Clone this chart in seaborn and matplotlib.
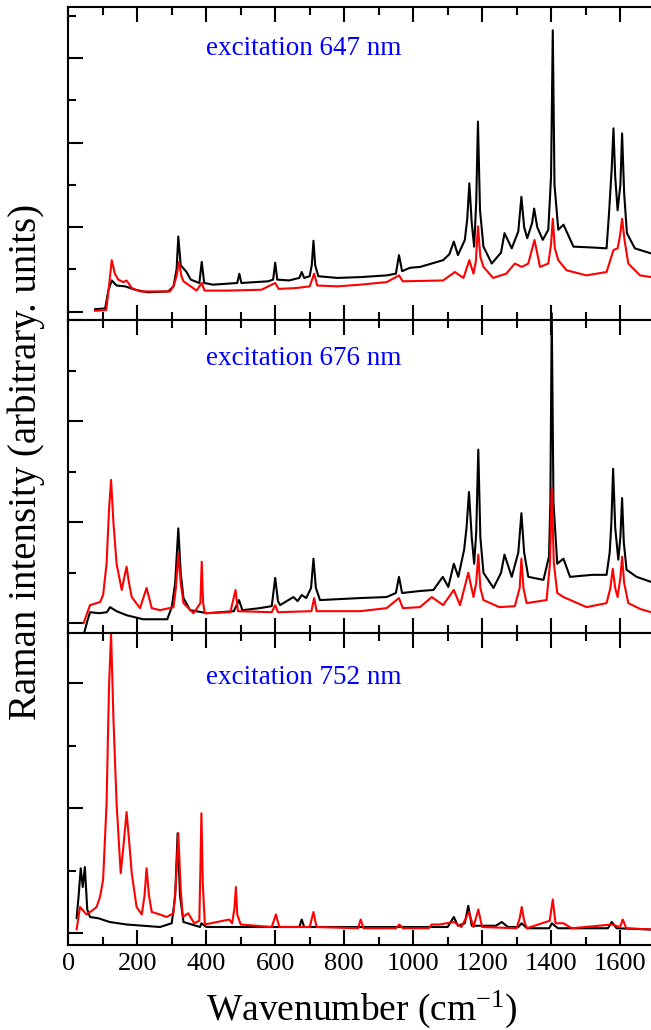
import pandas as pd
import matplotlib
matplotlib.use("Agg")
import matplotlib.pyplot as plt
from matplotlib.ticker import MultipleLocator, NullFormatter
import seaborn as sns

# ─── DATA (wavenumber cm-1, intensity in panel units) ──────────
EXCITATION = ["excitation 647 nm", "excitation 676 nm", "excitation 752 nm"]

top_black = [(77, 0.03), (107, 0.04), (116, 0.25), (126, 0.37), (140, 0.31), (165, 0.30),
             (194, 0.26), (230, 0.23), (290, 0.24), (305, 0.30), (314, 0.50), (319, 0.89),
             (326, 0.55), (343, 0.47), (355, 0.38), (380, 0.34), (387, 0.59), (394, 0.34),
             (420, 0.32), (490, 0.34), (496, 0.45), (502, 0.34), (580, 0.36), (594, 0.38),
             (600, 0.58), (606, 0.38), (640, 0.37), (670, 0.40), (677, 0.47), (684, 0.40),
             (700, 0.42), (706, 0.55), (711, 0.84), (716, 0.55), (725, 0.42), (780, 0.40),
             (850, 0.41), (923, 0.43), (950, 0.45), (959, 0.67), (968, 0.48), (991, 0.52),
             (1020, 0.53), (1087, 0.61), (1105, 0.68), (1118, 0.83), (1130, 0.67), (1150, 0.85),
             (1157, 1.10), (1163, 1.52), (1170, 1.05), (1177, 0.77), (1183, 1.30), (1188, 2.25),
             (1194, 1.20), (1204, 0.77), (1228, 0.57), (1255, 0.70), (1265, 0.93), (1286, 0.75),
             (1305, 0.95), (1314, 1.36), (1322, 1.00), (1331, 0.87), (1345, 1.05), (1351, 1.22),
             (1360, 1.00), (1376, 0.85), (1392, 0.97), (1400, 1.60), (1405, 3.33), (1410, 1.50),
             (1421, 0.97), (1436, 1.03), (1465, 0.77), (1520, 0.76), (1561, 0.75), (1568, 1.16),
             (1576, 1.70), (1581, 2.17), (1586, 1.60), (1593, 1.20), (1601, 1.50), (1606, 2.11),
             (1612, 1.40), (1620, 0.93), (1643, 0.75), (1690, 0.69)]

top_red = [(77, 0.01), (110, 0.02), (118, 0.30), (126, 0.61), (135, 0.45), (145, 0.38),
           (160, 0.35), (169, 0.37), (184, 0.28), (208, 0.24), (295, 0.24), (305, 0.30),
           (314, 0.42), (321, 0.59), (328, 0.42), (334, 0.36), (348, 0.32), (372, 0.25),
           (387, 0.34), (395, 0.25), (460, 0.25), (560, 0.26), (600, 0.34), (610, 0.27),
           (660, 0.28), (700, 0.30), (713, 0.45), (722, 0.31), (780, 0.30), (846, 0.32),
           (923, 0.35), (959, 0.43), (970, 0.36), (1087, 0.37), (1121, 0.47), (1146, 0.40),
           (1163, 0.61), (1175, 0.45), (1182, 0.60), (1188, 1.01), (1195, 0.65), (1204, 0.53),
           (1232, 0.40), (1270, 0.45), (1295, 0.57), (1315, 0.53), (1334, 0.57), (1352, 0.85),
           (1368, 0.53), (1392, 0.57), (1400, 0.80), (1405, 1.10), (1411, 0.75), (1421, 0.61),
           (1445, 0.49), (1503, 0.43), (1561, 0.47), (1581, 0.73), (1593, 0.75), (1600, 0.90),
           (1606, 1.10), (1613, 0.85), (1624, 0.57), (1658, 0.43), (1690, 0.41)]

mid_black = [(44, -0.12), (55, 0.02), (63, 0.11), (90, 0.10), (112, 0.11), (121, 0.16),
             (140, 0.12), (169, 0.08), (217, 0.04), (287, 0.04), (300, 0.16), (310, 0.40),
             (319, 0.94), (326, 0.50), (334, 0.25), (353, 0.13), (387, 0.11), (402, 0.10),
             (480, 0.12), (495, 0.23), (505, 0.13), (555, 0.15), (590, 0.17), (600, 0.45),
             (608, 0.22), (614, 0.18), (653, 0.26), (665, 0.22), (677, 0.28), (690, 0.25),
             (704, 0.35), (711, 0.64), (718, 0.35), (730, 0.23), (846, 0.25), (923, 0.26),
             (950, 0.30), (959, 0.46), (968, 0.30), (1020, 0.32), (1059, 0.33), (1086, 0.46),
             (1102, 0.36), (1118, 0.59), (1131, 0.46), (1148, 0.73), (1155, 0.95), (1162, 1.30),
             (1170, 0.85), (1177, 0.59), (1183, 0.90), (1189, 1.72), (1195, 0.85), (1204, 0.50),
             (1233, 0.35), (1255, 0.50), (1265, 0.68), (1286, 0.46), (1305, 0.70), (1314, 1.09),
             (1322, 0.70), (1334, 0.46), (1378, 0.43), (1394, 0.66), (1398, 1.20), (1402, 3.07),
             (1407, 1.20), (1418, 0.59), (1436, 0.64), (1455, 0.46), (1520, 0.48), (1561, 0.48),
             (1570, 0.70), (1575, 1.00), (1580, 1.53), (1586, 0.95), (1595, 0.63), (1601, 0.85),
             (1606, 1.24), (1611, 0.80), (1619, 0.53), (1648, 0.46), (1690, 0.41)]

mid_red = [(44, 0.00), (63, 0.18), (92, 0.21), (101, 0.28), (111, 0.59), (118, 1.12),
           (124, 1.42), (131, 0.99), (140, 0.59), (155, 0.33), (162, 0.45), (169, 0.56),
           (176, 0.40), (184, 0.26), (208, 0.15), (227, 0.35), (242, 0.15), (266, 0.13),
           (305, 0.16), (312, 0.35), (319, 0.69), (326, 0.40), (334, 0.20), (363, 0.10),
           (383, 0.20), (387, 0.61), (391, 0.20), (396, 0.10), (470, 0.11), (485, 0.33),
           (492, 0.12), (590, 0.11), (600, 0.18), (608, 0.11), (705, 0.12), (713, 0.25),
           (720, 0.12), (846, 0.12), (923, 0.15), (959, 0.25), (970, 0.15), (1020, 0.16),
           (1054, 0.26), (1087, 0.18), (1118, 0.33), (1136, 0.18), (1160, 0.50), (1175, 0.26),
           (1183, 0.40), (1189, 0.68), (1195, 0.35), (1204, 0.23), (1250, 0.16), (1295, 0.17),
           (1309, 0.35), (1314, 0.64), (1320, 0.35), (1329, 0.20), (1387, 0.23), (1397, 0.60),
           (1402, 1.34), (1408, 0.60), (1418, 0.30), (1436, 0.26), (1503, 0.16), (1561, 0.20),
           (1572, 0.35), (1579, 0.54), (1586, 0.35), (1593, 0.26), (1601, 0.45), (1606, 0.66),
           (1612, 0.40), (1624, 0.20), (1660, 0.14), (1690, 0.11)]

bot_black = [(24, 0.12), (30, 0.30), (36, 0.52), (42, 0.37), (48, 0.53), (55, 0.19),
             (63, 0.13), (87, 0.12), (120, 0.09), (169, 0.07), (266, 0.05), (300, 0.08),
             (310, 0.30), (317, 0.80), (324, 0.30), (334, 0.09), (382, 0.05), (386, 0.08),
             (400, 0.05), (670, 0.05), (677, 0.11), (684, 0.05), (1100, 0.05), (1118, 0.13),
             (1130, 0.06), (1150, 0.08), (1160, 0.22), (1170, 0.06), (1240, 0.06), (1257, 0.09),
             (1275, 0.05), (1305, 0.05), (1315, 0.08), (1330, 0.04), (1395, 0.04), (1402, 0.08),
             (1420, 0.04), (1565, 0.04), (1576, 0.09), (1590, 0.04), (1690, 0.03)]

bot_red = [(24, 0.03), (34, 0.21), (53, 0.15), (73, 0.19), (82, 0.21), (92, 0.29),
           (101, 0.43), (111, 1.04), (118, 1.97), (124, 2.40), (131, 1.71), (140, 1.04),
           (152, 0.48), (160, 0.70), (169, 0.97), (176, 0.75), (184, 0.48), (198, 0.21),
           (213, 0.15), (221, 0.30), (227, 0.52), (234, 0.30), (242, 0.17), (266, 0.15),
           (285, 0.13), (305, 0.16), (312, 0.40), (319, 0.80), (326, 0.35), (332, 0.13),
           (348, 0.16), (365, 0.08), (380, 0.10), (383, 0.50), (386, 0.96), (390, 0.40),
           (396, 0.07), (467, 0.11), (475, 0.08), (482, 0.20), (486, 0.37), (490, 0.15),
           (500, 0.07), (590, 0.05), (602, 0.15), (612, 0.05), (700, 0.05), (711, 0.17),
           (720, 0.05), (840, 0.04), (848, 0.11), (856, 0.04), (950, 0.04), (960, 0.07),
           (970, 0.04), (1045, 0.04), (1054, 0.07), (1076, 0.07), (1118, 0.09), (1140, 0.05),
           (1162, 0.17), (1175, 0.05), (1189, 0.19), (1200, 0.05), (1300, 0.04), (1309, 0.12),
           (1315, 0.21), (1322, 0.10), (1330, 0.04), (1396, 0.10), (1405, 0.27), (1413, 0.08),
           (1436, 0.08), (1460, 0.04), (1576, 0.07), (1600, 0.05), (1608, 0.11), (1618, 0.04),
           (1690, 0.03)]

PANELS = [(top_black, top_red), (mid_black, mid_red), (bot_black, bot_red)]
YLIMS = [(-0.098, 3.606), (-0.093, 3.003), (-0.094, 2.405)]
TEXT_Y = [0.847, 0.856, 0.836]
XTICKS = list(range(0, 1700, 200))

# ─── STYLE ──────────────────────────────────────────────────────
sns.set_style("ticks")
plt.rcParams["font.family"] = ["Liberation Serif", "DejaVu Serif"]
plt.rcParams["mathtext.fontset"] = "custom"
plt.rcParams["mathtext.rm"] = "Liberation Serif"
plt.rcParams["mathtext.it"] = "Liberation Serif:italic"
for key in ("text.color", "axes.labelcolor", "xtick.color", "ytick.color", "axes.edgecolor"):
    plt.rcParams[key] = "black"

W, H = 651, 1030
fig = plt.figure(figsize=(W / 100, H / 100), dpi=100)

left = 68.3 / W
width = (654.5 - 68.3) / W
edges = [7, 320, 632.7, 945]

for i, (blk, red) in enumerate(PANELS):
    top, bottom = edges[i], edges[i + 1]
    ax = fig.add_axes([left, 1 - bottom / H, width, (bottom - top) / H])
    df = pd.concat([
        pd.DataFrame(blk, columns=["wavenumber", "intensity"]).assign(series="black"),
        pd.DataFrame(red, columns=["wavenumber", "intensity"]).assign(series="red"),
    ])
    sns.lineplot(data=df, x="wavenumber", y="intensity", hue="series",
                 hue_order=["black", "red"], palette={"black": "black", "red": "#ff0000"},
                 estimator=None, sort=False, legend=False, linewidth=1.5,
                 clip_on=False, ax=ax)

    ax.set_xlim(0, 1700)
    ax.set_ylim(*YLIMS[i])
    ax.xaxis.set_major_locator(MultipleLocator(200))
    ax.xaxis.set_minor_locator(MultipleLocator(100))
    ax.yaxis.set_major_locator(MultipleLocator(1))
    ax.yaxis.set_minor_locator(MultipleLocator(0.5))
    ax.tick_params(which="both", direction="in", top=True, bottom=True,
                   left=True, right=False, width=1.5, colors="black")
    ax.tick_params(which="major", length=11)
    ax.tick_params(which="minor", length=5.5)
    ax.yaxis.set_major_formatter(NullFormatter())
    ax.set_ylabel("")
    ax.set_xlabel("")
    if i < 2:
        ax.xaxis.set_major_formatter(NullFormatter())
    else:
        ax.set_xticks(XTICKS)
        ax.set_xticklabels([str(t) for t in XTICKS])
        ax.tick_params(axis="x", labelsize=19, pad=6)
    for sp in ax.spines.values():
        sp.set_linewidth(1.5)
        sp.set_color("black")
    ax.text(0.235, TEXT_Y[i], EXCITATION[i], transform=ax.transAxes,
            color="#0000ff", fontsize=19.5, va="baseline", ha="left")

fig.text((68.3 + 654.5) / 2 / W, 1 - 1020 / H, r"Wavenumber (cm$^{\mathrm{-1}}$)",
         fontsize=27, ha="center", va="baseline")
fig.text(26 / W, 1 - 461.5 / H, "Raman intensity (arbitrary. units)",
         fontsize=28, rotation=90, ha="center", va="center")

fig.savefig("out.png", dpi=100)
